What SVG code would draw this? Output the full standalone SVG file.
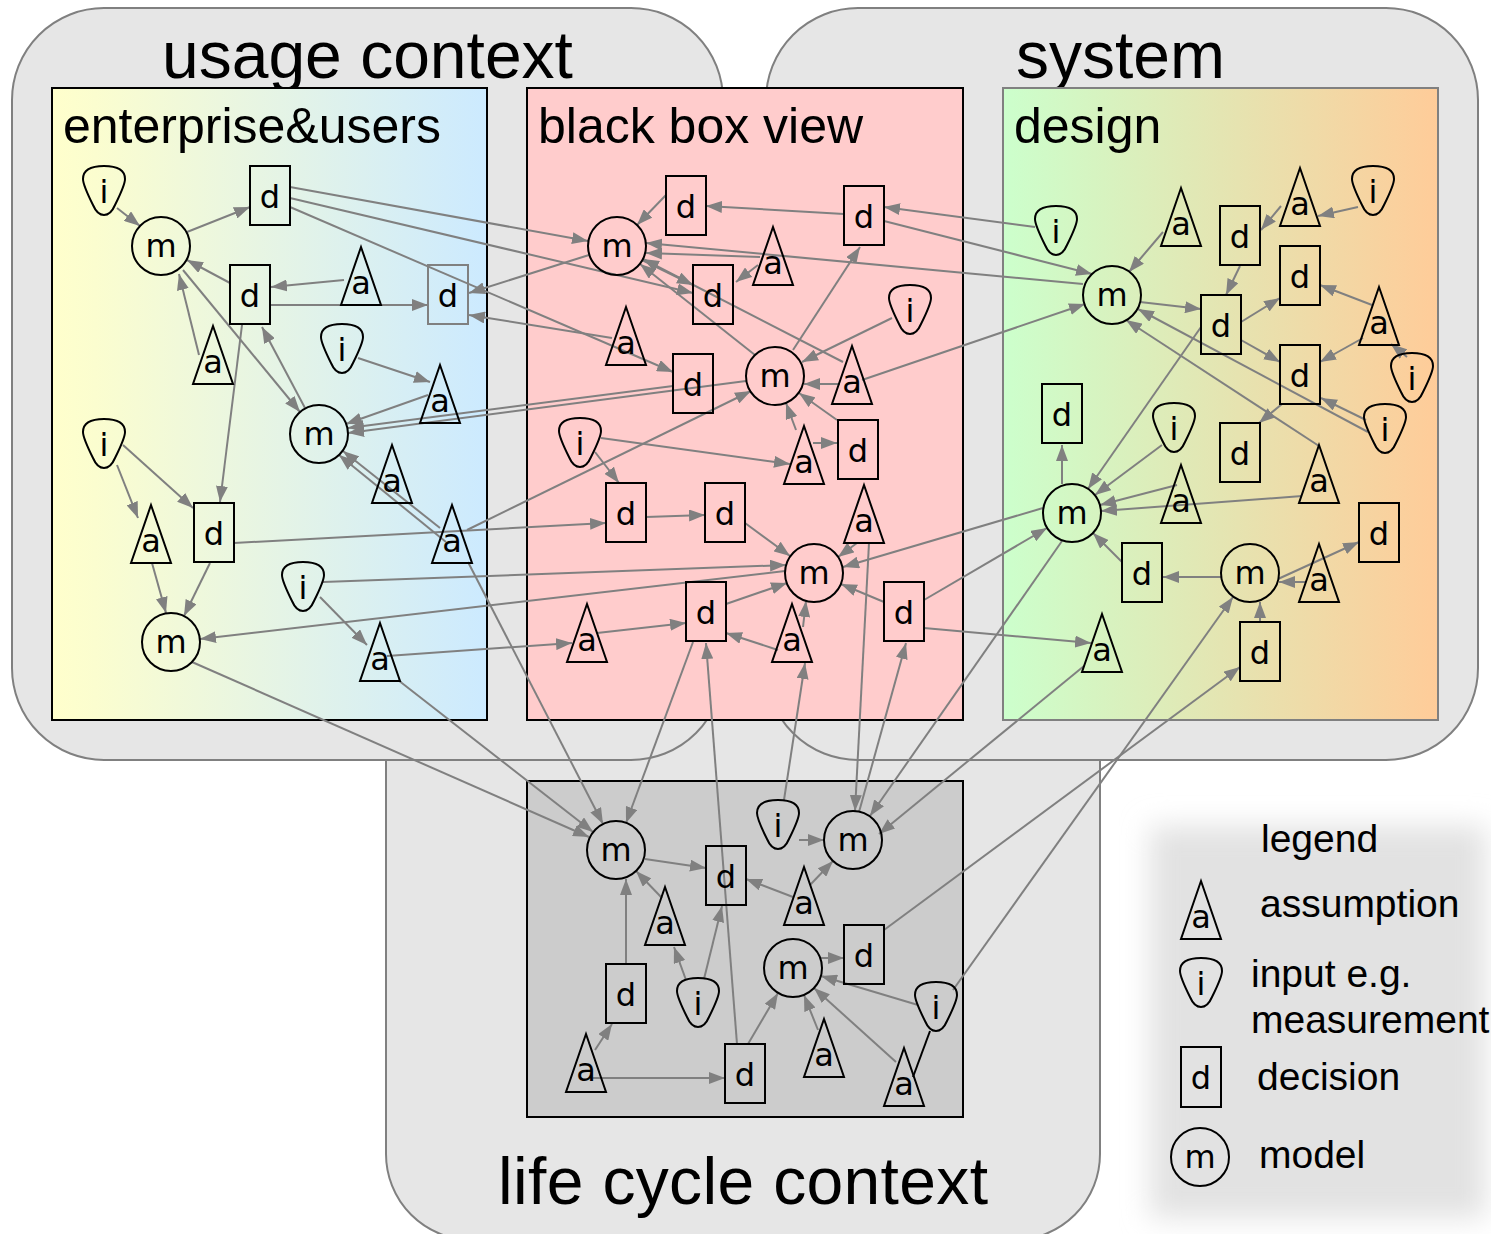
<svg xmlns="http://www.w3.org/2000/svg" xmlns:xlink="http://www.w3.org/1999/xlink" width="1491" height="1234" viewBox="0 0 1491 1234">
<defs>
<linearGradient id="gE" x1="0" y1="0" x2="1" y2="0"><stop offset="0" stop-color="#ffffcc"/><stop offset="0.1" stop-color="#fbfdcf"/><stop offset="1" stop-color="#cceaff"/></linearGradient>
<linearGradient id="gS" x1="0" y1="0" x2="1" y2="0"><stop offset="0" stop-color="#ccffcc"/><stop offset="0.5" stop-color="#e4e5b2"/><stop offset="1" stop-color="#ffcc99"/></linearGradient>
<filter id="blur" x="-20%" y="-20%" width="140%" height="140%"><feGaussianBlur stdDeviation="14"/></filter>
<marker id="ah" viewBox="0 0 16 12" refX="16" refY="6" markerWidth="16" markerHeight="12" markerUnits="userSpaceOnUse" orient="auto"><path d="M0,0 L16,6 L0,12 Z" fill="#808080"/></marker>
<path id="ip" d="M-21,-12 C-21,-22 -12,-25 0,-25 C12,-25 21,-22 21,-12 C21,-6 16,4 11,14 C8,21 5,24 0,24 C-5,24 -8,21 -11,14 C-16,4 -21,-6 -21,-12 Z"/>
<style>
.ctx{fill:#e6e6e6;stroke:#808080;stroke-width:2}
.big{font-family:"Liberation Sans",Arial,sans-serif;font-size:66px;fill:#000}
.sub{font-family:"Liberation Sans",Arial,sans-serif;font-size:50px;fill:#000}
.leg{font-family:"Liberation Sans",Arial,sans-serif;font-size:39px;fill:#000}
.c{stroke:#808080;stroke-width:2;fill:none;marker-end:url(#ah)}
.n{fill:none;stroke:#000;stroke-width:2}
.t{font-family:"DejaVu Sans",Verdana,sans-serif;font-size:32px;text-anchor:middle;fill:#000}
</style>
</defs>
<rect width="1491" height="1234" fill="#ffffff"/>
<g id="contexts">
<rect class="ctx" x="386" y="300" width="714" height="940" rx="86"/>
<rect class="ctx" x="12" y="8" width="711" height="752" rx="92"/>
<rect class="ctx" x="766" y="8" width="712" height="752" rx="92"/>
<text class="big" x="162" y="78">usage context</text>
<text class="big" x="1016" y="78">system</text>
</g>
<g id="views">
<rect x="52" y="88" width="435" height="632" fill="url(#gE)" stroke="#000" stroke-width="2"/>
<rect x="527" y="88" width="436" height="632" fill="#ffcccc" stroke="#000" stroke-width="2"/>
<rect x="1003" y="88" width="435" height="632" fill="url(#gS)" stroke="#808080" stroke-width="2"/>
<rect x="527" y="781" width="436" height="336" fill="#cccccc" stroke="#000" stroke-width="2"/>
<text class="sub" x="63" y="143">enterprise&amp;users</text>
<text class="sub" x="538" y="143">black box view</text>
<text class="sub" x="1014" y="143">design</text>
<text class="big" x="498" y="1204" textLength="490">life cycle context</text>
</g>
<g id="legend">
<rect x="1150" y="826" width="336" height="392" fill="#e2e2e2" filter="url(#blur)"/>
<text class="leg" x="1261" y="852">legend</text>
<g transform="translate(1201,910)"><path class="n" d="M0,-29 L20,29 L-20,29 Z"/><text class="t" y="18">a</text></g>
<text class="leg" x="1260" y="917">assumption</text>
<g transform="translate(1201,983)"><use xlink:href="#ip" class="n"/><text class="t" y="12">i</text></g>
<text class="leg" x="1251" y="987">input e.g.</text>
<text class="leg" x="1251" y="1033">measurement</text>
<g transform="translate(1201,1077)"><rect class="n" x="-20" y="-30" width="40" height="60"/><text class="t" y="12">d</text></g>
<text class="leg" x="1257" y="1090">decision</text>
<g transform="translate(1200,1157)"><circle class="n" r="29"/><text class="t" y="11">m</text></g>
<text class="leg" x="1259" y="1168">model</text>
</g>
<g id="connectors">
<line class="c" x1="117" y1="208" x2="140" y2="226"/>
<line class="c" x1="187" y1="232" x2="250" y2="207"/>
<line class="c" x1="290" y1="187" x2="588" y2="241"/>
<line class="c" x1="290" y1="198" x2="693" y2="293"/>
<line class="c" x1="290" y1="207" x2="673" y2="372"/>
<line class="c" x1="589" y1="255" x2="469" y2="293"/>
<line class="c" x1="612" y1="338" x2="469" y2="315"/>
<line class="c" x1="230" y1="283" x2="187" y2="260"/>
<line class="c" x1="344" y1="280" x2="271" y2="287"/>
<line class="c" x1="270" y1="305" x2="428" y2="305"/>
<line class="c" x1="199" y1="355" x2="179" y2="274"/>
<line class="c" x1="183" y1="270" x2="300" y2="412"/>
<line class="c" x1="305" y1="408" x2="262" y2="327"/>
<line class="c" x1="242" y1="325" x2="220" y2="502"/>
<line class="c" x1="358" y1="358" x2="430" y2="382"/>
<line class="c" x1="428" y1="395" x2="346" y2="424"/>
<line class="c" x1="673" y1="386" x2="348" y2="428"/>
<line class="c" x1="746" y1="381" x2="348" y2="433"/>
<line class="c" x1="440" y1="528" x2="343" y2="451"/>
<line class="c" x1="446" y1="542" x2="339" y2="455"/>
<line class="c" x1="468" y1="562" x2="603" y2="824"/>
<line class="c" x1="117" y1="465" x2="138" y2="518"/>
<line class="c" x1="123" y1="445" x2="193" y2="508"/>
<line class="c" x1="152" y1="563" x2="166" y2="613"/>
<line class="c" x1="210" y1="563" x2="184" y2="616"/>
<line class="c" x1="234" y1="543" x2="606" y2="523"/>
<line class="c" x1="467" y1="530" x2="751" y2="391"/>
<line class="c" x1="323" y1="582" x2="786" y2="565"/>
<line class="c" x1="785" y1="571" x2="200" y2="639"/>
<line class="c" x1="320" y1="597" x2="367" y2="645"/>
<line class="c" x1="387" y1="656" x2="572" y2="643"/>
<line class="c" x1="192" y1="662" x2="589" y2="837"/>
<line class="c" x1="398" y1="680" x2="593" y2="832"/>
<line class="c" x1="693" y1="642" x2="626" y2="823"/>
<line class="c" x1="737" y1="1044" x2="706" y2="643"/>
<line class="c" x1="784" y1="800" x2="805" y2="663"/>
<line class="c" x1="869" y1="543" x2="855" y2="811"/>
<line class="c" x1="859" y1="812" x2="906" y2="643"/>
<line class="c" x1="1062" y1="541" x2="870" y2="816"/>
<line class="c" x1="1084" y1="666" x2="879" y2="834"/>
<line class="c" x1="924" y1="628" x2="1091" y2="643"/>
<line class="c" x1="1043" y1="508" x2="843" y2="567"/>
<line class="c" x1="924" y1="600" x2="1047" y2="528"/>
<line class="c" x1="666" y1="195" x2="637" y2="225"/>
<line class="c" x1="844" y1="214" x2="706" y2="206"/>
<line class="c" x1="1035" y1="227" x2="884" y2="207"/>
<line class="c" x1="884" y1="221" x2="1092" y2="274"/>
<line class="c" x1="1083" y1="284" x2="646" y2="243"/>
<line class="c" x1="760" y1="257" x2="646" y2="253"/>
<line class="c" x1="758" y1="265" x2="736" y2="282"/>
<line class="c" x1="642" y1="260" x2="693" y2="285"/>
<line class="c" x1="793" y1="350" x2="860" y2="247"/>
<line class="c" x1="892" y1="318" x2="802" y2="362"/>
<line class="c" x1="755" y1="355" x2="640" y2="264"/>
<line class="c" x1="843" y1="362" x2="643" y2="259"/>
<line class="c" x1="862" y1="380" x2="1085" y2="304"/>
<line class="c" x1="840" y1="384" x2="804" y2="384"/>
<line class="c" x1="837" y1="420" x2="799" y2="393"/>
<line class="c" x1="796" y1="430" x2="786" y2="403"/>
<line class="c" x1="813" y1="443" x2="837" y2="443"/>
<line class="c" x1="601" y1="438" x2="790" y2="464"/>
<line class="c" x1="595" y1="452" x2="619" y2="483"/>
<line class="c" x1="646" y1="517" x2="705" y2="515"/>
<line class="c" x1="745" y1="523" x2="790" y2="556"/>
<line class="c" x1="857" y1="543" x2="838" y2="557"/>
<line class="c" x1="726" y1="604" x2="787" y2="583"/>
<line class="c" x1="597" y1="633" x2="686" y2="623"/>
<line class="c" x1="778" y1="650" x2="726" y2="633"/>
<line class="c" x1="803" y1="627" x2="806" y2="601"/>
<line class="c" x1="884" y1="602" x2="841" y2="584"/>
<line class="c" x1="1163" y1="232" x2="1129" y2="272"/>
<line class="c" x1="1281" y1="206" x2="1261" y2="230"/>
<line class="c" x1="1358" y1="207" x2="1318" y2="216"/>
<line class="c" x1="1240" y1="266" x2="1226" y2="295"/>
<line class="c" x1="1140" y1="302" x2="1201" y2="309"/>
<line class="c" x1="1241" y1="322" x2="1280" y2="298"/>
<line class="c" x1="1241" y1="340" x2="1280" y2="362"/>
<line class="c" x1="1372" y1="305" x2="1320" y2="285"/>
<line class="c" x1="1363" y1="338" x2="1320" y2="362"/>
<line class="c" x1="1407" y1="357" x2="1391" y2="344"/>
<line class="c" x1="1201" y1="327" x2="1088" y2="489"/>
<line class="c" x1="1368" y1="432" x2="1138" y2="309"/>
<line class="c" x1="1366" y1="420" x2="1321" y2="398"/>
<line class="c" x1="1319" y1="446" x2="1126" y2="320"/>
<line class="c" x1="1282" y1="404" x2="1259" y2="423"/>
<line class="c" x1="1062" y1="484" x2="1062" y2="445"/>
<line class="c" x1="1162" y1="445" x2="1095" y2="495"/>
<line class="c" x1="1177" y1="485" x2="1100" y2="505"/>
<line class="c" x1="1302" y1="496" x2="1101" y2="511"/>
<line class="c" x1="1122" y1="562" x2="1093" y2="533"/>
<line class="c" x1="1221" y1="577" x2="1163" y2="577"/>
<line class="c" x1="1278" y1="579" x2="1359" y2="542"/>
<line class="c" x1="1306" y1="582" x2="1279" y2="582"/>
<line class="c" x1="1260" y1="622" x2="1260" y2="602"/>
<line class="c" x1="884" y1="930" x2="1240" y2="667"/>
<line class="c" x1="953" y1="990" x2="1233" y2="597"/>
<line class="c" x1="645" y1="859" x2="706" y2="868"/>
<line class="c" x1="662" y1="898" x2="636" y2="871"/>
<line class="c" x1="626" y1="964" x2="626" y2="879"/>
<line class="c" x1="793" y1="897" x2="746" y2="879"/>
<line class="c" x1="810" y1="885" x2="833" y2="861"/>
<line class="c" x1="799" y1="840" x2="824" y2="840"/>
<line class="c" x1="686" y1="980" x2="674" y2="947"/>
<line class="c" x1="704" y1="979" x2="722" y2="906"/>
<line class="c" x1="595" y1="1050" x2="612" y2="1024"/>
<line class="c" x1="593" y1="1078" x2="725" y2="1078"/>
<line class="c" x1="748" y1="1044" x2="778" y2="993"/>
<line class="c" x1="820" y1="958" x2="844" y2="958"/>
<line class="c" x1="918" y1="1005" x2="821" y2="976"/>
<line class="c" x1="818" y1="1030" x2="804" y2="995"/>
<line class="c" x1="896" y1="1062" x2="814" y2="988"/>
<line x1="930" y1="1031" x2="913" y2="1077" stroke="#000" stroke-width="2"/>
</g>
<g id="e_i1" transform="translate(104,191)"><use xlink:href="#ip" class="n"/><text class="t" y="12">i</text></g>
<g id="e_m1" transform="translate(161,246)"><circle class="n" r="29"/><text class="t" y="11">m</text></g>
<g id="e_d1" transform="translate(270,196)"><rect class="n" x="-20" y="-30" width="40" height="59"/><text class="t" y="12">d</text></g>
<g id="e_d2" transform="translate(250,295)"><rect class="n" x="-20" y="-30" width="40" height="59"/><text class="t" y="12">d</text></g>
<g id="e_a1" transform="translate(361,276)"><path class="n" d="M0,-29 L20,29 L-20,29 Z"/><text class="t" y="18">a</text></g>
<g id="e_d3" transform="translate(448,295)"><rect x="-20" y="-30" width="40" height="59" fill="none" stroke="#808080" stroke-width="2"/><text class="t" y="12">d</text></g>
<g id="e_a2" transform="translate(213,355)"><path class="n" d="M0,-29 L20,29 L-20,29 Z"/><text class="t" y="18">a</text></g>
<g id="e_i2" transform="translate(342,349)"><use xlink:href="#ip" class="n"/><text class="t" y="12">i</text></g>
<g id="e_a3" transform="translate(440,394)"><path class="n" d="M0,-29 L20,29 L-20,29 Z"/><text class="t" y="18">a</text></g>
<g id="e_m2" transform="translate(319,434)"><circle class="n" r="29"/><text class="t" y="11">m</text></g>
<g id="e_i3" transform="translate(104,444)"><use xlink:href="#ip" class="n"/><text class="t" y="12">i</text></g>
<g id="e_a4" transform="translate(151,534)"><path class="n" d="M0,-29 L20,29 L-20,29 Z"/><text class="t" y="18">a</text></g>
<g id="e_d4" transform="translate(214,533)"><rect class="n" x="-20" y="-30" width="40" height="59"/><text class="t" y="12">d</text></g>
<g id="e_a5" transform="translate(392,474)"><path class="n" d="M0,-29 L20,29 L-20,29 Z"/><text class="t" y="18">a</text></g>
<g id="e_a6" transform="translate(452,534)"><path class="n" d="M0,-29 L20,29 L-20,29 Z"/><text class="t" y="18">a</text></g>
<g id="e_i4" transform="translate(303,587)"><use xlink:href="#ip" class="n"/><text class="t" y="12">i</text></g>
<g id="e_m3" transform="translate(171,642)"><circle class="n" r="29"/><text class="t" y="11">m</text></g>
<g id="e_a7" transform="translate(380,652)"><path class="n" d="M0,-29 L20,29 L-20,29 Z"/><text class="t" y="18">a</text></g>
<g id="b_d5" transform="translate(686,206)"><rect class="n" x="-20" y="-30" width="40" height="59"/><text class="t" y="12">d</text></g>
<g id="b_m4" transform="translate(617,246)"><circle class="n" r="29"/><text class="t" y="11">m</text></g>
<g id="b_d6" transform="translate(864,216)"><rect class="n" x="-20" y="-30" width="40" height="59"/><text class="t" y="12">d</text></g>
<g id="b_a8" transform="translate(773,256)"><path class="n" d="M0,-29 L20,29 L-20,29 Z"/><text class="t" y="18">a</text></g>
<g id="b_d7" transform="translate(713,295)"><rect class="n" x="-20" y="-30" width="40" height="59"/><text class="t" y="12">d</text></g>
<g id="b_a9" transform="translate(626,336)"><path class="n" d="M0,-29 L20,29 L-20,29 Z"/><text class="t" y="18">a</text></g>
<g id="b_i5" transform="translate(910,310)"><use xlink:href="#ip" class="n"/><text class="t" y="12">i</text></g>
<g id="b_d8" transform="translate(693,384)"><rect class="n" x="-20" y="-30" width="40" height="59"/><text class="t" y="12">d</text></g>
<g id="b_m5" transform="translate(775,376)"><circle class="n" r="29"/><text class="t" y="11">m</text></g>
<g id="b_a10" transform="translate(852,375)"><path class="n" d="M0,-29 L20,29 L-20,29 Z"/><text class="t" y="18">a</text></g>
<g id="b_i6" transform="translate(580,443)"><use xlink:href="#ip" class="n"/><text class="t" y="12">i</text></g>
<g id="b_a11" transform="translate(804,455)"><path class="n" d="M0,-29 L20,29 L-20,29 Z"/><text class="t" y="18">a</text></g>
<g id="b_d9" transform="translate(858,450)"><rect class="n" x="-20" y="-30" width="40" height="59"/><text class="t" y="12">d</text></g>
<g id="b_d10" transform="translate(626,513)"><rect class="n" x="-20" y="-30" width="40" height="59"/><text class="t" y="12">d</text></g>
<g id="b_d11" transform="translate(725,513)"><rect class="n" x="-20" y="-30" width="40" height="59"/><text class="t" y="12">d</text></g>
<g id="b_a12" transform="translate(864,514)"><path class="n" d="M0,-29 L20,29 L-20,29 Z"/><text class="t" y="18">a</text></g>
<g id="b_m6" transform="translate(814,573)"><circle class="n" r="29"/><text class="t" y="11">m</text></g>
<g id="b_d12" transform="translate(706,612)"><rect class="n" x="-20" y="-30" width="40" height="59"/><text class="t" y="12">d</text></g>
<g id="b_d13" transform="translate(904,612)"><rect class="n" x="-20" y="-30" width="40" height="59"/><text class="t" y="12">d</text></g>
<g id="b_a13" transform="translate(587,633)"><path class="n" d="M0,-29 L20,29 L-20,29 Z"/><text class="t" y="18">a</text></g>
<g id="b_a14" transform="translate(792,633)"><path class="n" d="M0,-29 L20,29 L-20,29 Z"/><text class="t" y="18">a</text></g>
<g id="s_i7" transform="translate(1056,231)"><use xlink:href="#ip" class="n"/><text class="t" y="12">i</text></g>
<g id="s_a15" transform="translate(1181,217)"><path class="n" d="M0,-29 L20,29 L-20,29 Z"/><text class="t" y="18">a</text></g>
<g id="s_d14" transform="translate(1240,236)"><rect class="n" x="-20" y="-30" width="40" height="59"/><text class="t" y="12">d</text></g>
<g id="s_a16" transform="translate(1300,197)"><path class="n" d="M0,-29 L20,29 L-20,29 Z"/><text class="t" y="18">a</text></g>
<g id="s_i8" transform="translate(1373,191)"><use xlink:href="#ip" class="n"/><text class="t" y="12">i</text></g>
<g id="s_m7" transform="translate(1112,295)"><circle class="n" r="29"/><text class="t" y="11">m</text></g>
<g id="s_d15" transform="translate(1300,276)"><rect class="n" x="-20" y="-30" width="40" height="59"/><text class="t" y="12">d</text></g>
<g id="s_d16" transform="translate(1221,325)"><rect class="n" x="-20" y="-30" width="40" height="59"/><text class="t" y="12">d</text></g>
<g id="s_a17" transform="translate(1379,316)"><path class="n" d="M0,-29 L20,29 L-20,29 Z"/><text class="t" y="18">a</text></g>
<g id="s_d17" transform="translate(1300,375)"><rect class="n" x="-20" y="-30" width="40" height="59"/><text class="t" y="12">d</text></g>
<g id="s_i9" transform="translate(1412,378)"><use xlink:href="#ip" class="n"/><text class="t" y="12">i</text></g>
<g id="s_d18" transform="translate(1062,414)"><rect class="n" x="-20" y="-30" width="40" height="59"/><text class="t" y="12">d</text></g>
<g id="s_i10" transform="translate(1174,428)"><use xlink:href="#ip" class="n"/><text class="t" y="12">i</text></g>
<g id="s_d19" transform="translate(1240,453)"><rect class="n" x="-20" y="-30" width="40" height="59"/><text class="t" y="12">d</text></g>
<g id="s_i11" transform="translate(1385,429)"><use xlink:href="#ip" class="n"/><text class="t" y="12">i</text></g>
<g id="s_a18" transform="translate(1319,474)"><path class="n" d="M0,-29 L20,29 L-20,29 Z"/><text class="t" y="18">a</text></g>
<g id="s_a19" transform="translate(1181,494)"><path class="n" d="M0,-29 L20,29 L-20,29 Z"/><text class="t" y="18">a</text></g>
<g id="s_m8" transform="translate(1072,513)"><circle class="n" r="29"/><text class="t" y="11">m</text></g>
<g id="s_d20" transform="translate(1379,533)"><rect class="n" x="-20" y="-30" width="40" height="59"/><text class="t" y="12">d</text></g>
<g id="s_d21" transform="translate(1142,573)"><rect class="n" x="-20" y="-30" width="40" height="59"/><text class="t" y="12">d</text></g>
<g id="s_m9" transform="translate(1250,573)"><circle class="n" r="29"/><text class="t" y="11">m</text></g>
<g id="s_a20" transform="translate(1319,573)"><path class="n" d="M0,-29 L20,29 L-20,29 Z"/><text class="t" y="18">a</text></g>
<g id="s_d22" transform="translate(1260,652)"><rect class="n" x="-20" y="-30" width="40" height="59"/><text class="t" y="12">d</text></g>
<g id="s_a21" transform="translate(1102,643)"><path class="n" d="M0,-29 L20,29 L-20,29 Z"/><text class="t" y="18">a</text></g>
<g id="l_m10" transform="translate(616,850)"><circle class="n" r="29"/><text class="t" y="11">m</text></g>
<g id="l_d23" transform="translate(726,876)"><rect class="n" x="-20" y="-30" width="40" height="59"/><text class="t" y="12">d</text></g>
<g id="l_i12" transform="translate(778,825)"><use xlink:href="#ip" class="n"/><text class="t" y="12">i</text></g>
<g id="l_m11" transform="translate(853,840)"><circle class="n" r="29"/><text class="t" y="11">m</text></g>
<g id="l_a22" transform="translate(804,896)"><path class="n" d="M0,-29 L20,29 L-20,29 Z"/><text class="t" y="18">a</text></g>
<g id="l_a23" transform="translate(665,916)"><path class="n" d="M0,-29 L20,29 L-20,29 Z"/><text class="t" y="18">a</text></g>
<g id="l_m12" transform="translate(793,968)"><circle class="n" r="29"/><text class="t" y="11">m</text></g>
<g id="l_d24" transform="translate(864,955)"><rect class="n" x="-20" y="-30" width="40" height="59"/><text class="t" y="12">d</text></g>
<g id="l_d25" transform="translate(626,994)"><rect class="n" x="-20" y="-30" width="40" height="59"/><text class="t" y="12">d</text></g>
<g id="l_i13" transform="translate(698,1003)"><use xlink:href="#ip" class="n"/><text class="t" y="12">i</text></g>
<g id="l_i14" transform="translate(936,1007)"><use xlink:href="#ip" class="n"/><text class="t" y="12">i</text></g>
<g id="l_a24" transform="translate(586,1063)"><path class="n" d="M0,-29 L20,29 L-20,29 Z"/><text class="t" y="18">a</text></g>
<g id="l_d26" transform="translate(745,1074)"><rect class="n" x="-20" y="-30" width="40" height="59"/><text class="t" y="12">d</text></g>
<g id="l_a25" transform="translate(824,1048)"><path class="n" d="M0,-29 L20,29 L-20,29 Z"/><text class="t" y="18">a</text></g>
<g id="l_a26" transform="translate(904,1077)"><path class="n" d="M0,-29 L20,29 L-20,29 Z"/><text class="t" y="18">a</text></g>
</svg>
